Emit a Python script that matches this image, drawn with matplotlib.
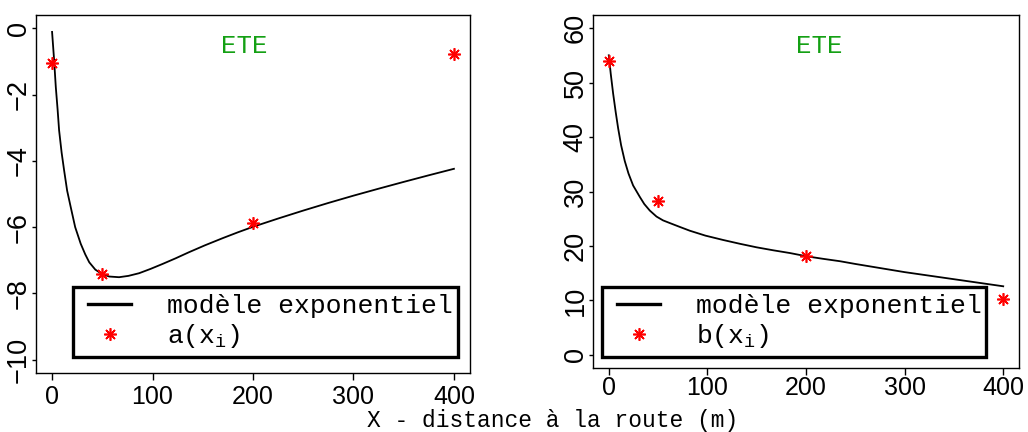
import matplotlib
matplotlib.use("Agg")
import matplotlib.pyplot as plt
from matplotlib.lines import Line2D
from matplotlib.patches import Rectangle

plt.rcParams['mathtext.fontset'] = 'custom'
plt.rcParams['mathtext.rm'] = 'Liberation Mono'
plt.rcParams['mathtext.tt'] = 'Liberation Mono'

# observed points
x_obs = [0, 50, 200, 400]
a_obs = [-1.05, -7.42, -5.87, -0.77]
b_obs = [54.0, 28.2, 18.1, 10.3]

# fitted exponential model curves
xa_model = [0, 2, 3.7, 5.5, 7, 9.5, 12, 15, 18.6, 23, 28.5, 33, 37, 43, 50, 57, 66.7, 76, 86.6, 98,
            110, 123, 136, 152, 170, 185, 200, 225, 250, 275, 300, 325, 350, 375, 400]
a_model = [-0.11, -0.95, -1.77, -2.45, -3.08, -3.75, -4.29, -4.9, -5.4, -6.0, -6.5, -6.82, -7.06,
           -7.28, -7.42, -7.49, -7.51, -7.47, -7.39, -7.26, -7.11, -6.94, -6.76, -6.55, -6.33,
           -6.155, -5.99, -5.74, -5.5, -5.27, -5.05, -4.84, -4.635, -4.435, -4.24]

xb_model = [0, 2, 4.4, 7, 9.5, 12.5, 16.2, 20, 24.7, 31.5, 36, 41.6, 48.4, 55, 62, 72, 82.2, 98,
            116, 133, 150, 167, 183.8, 200.7, 217, 234.5, 250, 275, 300, 325, 350, 375, 400]
b_model = [55.0, 51.6, 48.0, 44.6, 41.6, 38.5, 35.6, 33.3, 31.1, 29.0, 27.7, 26.5, 25.4, 24.7,
           24.2, 23.5, 22.8, 21.9, 21.1, 20.4, 19.75, 19.2, 18.7, 18.1, 17.65, 17.2, 16.7, 15.95,
           15.2, 14.55, 13.9, 13.25, 12.6]

panels = [
    dict(pos=[36/1028, 1-373/432, (470-36)/1028, (373-15)/432], xm=xa_model, ym=a_model,
         yobs=a_obs, ylim=(-10.4, 0.4), yticks=[0, -2, -4, -6, -8, -10], lab='a(x$_{\\mathrm{i}}$)',
         ete=(0.479, 0.913), xpad=4, legbox=(73, 287, 458, 357), bottom=373, left=36, width=434, height=358),
    dict(pos=[593/1028, 1-368/432, (1019-593)/1028, (368-15)/432], xm=xb_model, ym=b_model,
         yobs=b_obs, ylim=(-2.4, 62.4), yticks=[0, 10, 20, 30, 40, 50, 60], lab='b(x$_{\\mathrm{i}}$)',
         ete=(0.531, 0.913), xpad=1, legbox=(602, 287, 986, 357), bottom=368, left=593, width=426, height=353),
]

fig = plt.figure(figsize=(10.28, 4.32), dpi=100)
green = '#14a014'

for p in panels:
    ax = fig.add_axes(p['pos'])
    ax.plot(p['xm'], p['ym'], color='black', lw=1.3)
    ax.plot(x_obs, p['yobs'], linestyle='none', marker=(8, 2, 0), color='red',
            markersize=9, markeredgewidth=1.2)
    ax.set_xlim(-16, 416)
    ax.set_ylim(*p['ylim'])
    ax.set_xticks([0, 100, 200, 300, 400])
    ax.set_yticks(p['yticks'])
    ax.set_yticklabels([str(v).replace('-', '\u2212') for v in p['yticks']],
                       rotation=90, va='center', fontsize=19.5, family='Liberation Sans')
    ax.set_xticklabels(['0', '100', '200', '300', '400'], fontsize=18, family='Liberation Sans')
    ax.tick_params(axis='x', length=5, width=1, pad=p['xpad'])
    ax.tick_params(axis='y', length=3, width=1, pad=0)
    for s in ax.spines.values():
        s.set_linewidth(1.0)
    ax.text(p['ete'][0], p['ete'][1], 'ETE', transform=ax.transAxes, ha='center', va='center',
            color=green, fontsize=18.5, family='Liberation Mono')

    # legend box and contents
    x0, y0, x1, y1 = p['legbox']
    W, H, L, B = p['width'], p['height'], p['left'], p['bottom']
    ax.add_patch(Rectangle(((x0 - L) / W, (B - y1) / H), (x1 - x0) / W, (y1 - y0) / H,
                           transform=ax.transAxes, facecolor='white', edgecolor='black',
                           linewidth=2.4, zorder=4))
    h_line = Line2D([], [], color='black', lw=2.4)
    h_pt = Line2D([], [], linestyle='none', marker=(8, 2, 0), color='red',
                  markersize=9, markeredgewidth=1.2)
    leg = ax.legend([h_line, h_pt], ['modèle exponentiel', p['lab']],
                    bbox_to_anchor=((x0 + 15 - L) / W, (B - (y0 + y1) / 2) / H),
                    loc='center left', frameon=False,
                    prop={'family': 'Liberation Mono', 'size': 19},
                    handlelength=1.63, handletextpad=1.36, borderpad=0,
                    labelspacing=0.17, borderaxespad=0)
    leg.set_zorder(5)

fig.text(553/1028, 1-420/432, 'X - distance à la route (m)', ha='center', va='center',
         fontsize=16.5, family='Liberation Mono')

fig.savefig('out.png', dpi=100)
